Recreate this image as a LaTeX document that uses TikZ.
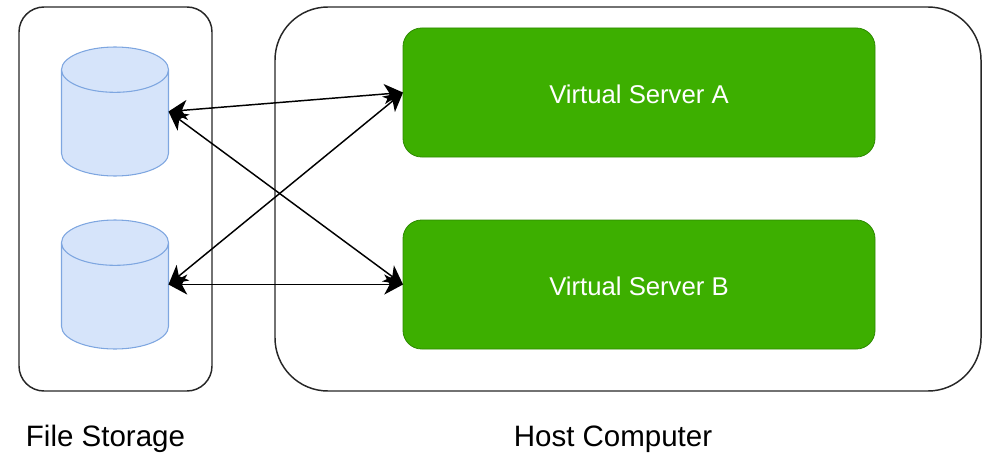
\documentclass[tikz,border=0pt]{standalone}
\usepackage{fontspec}
\setmainfont{Liberation Sans}
\usetikzlibrary{shapes.geometric}
\usetikzlibrary{positioning}
\usetikzlibrary{arrows.meta}
\definecolor{servergreen}{HTML}{3DAF00}
\definecolor{serverline}{HTML}{2D8A00}
\definecolor{diskfill}{HTML}{D6E4FA}
\definecolor{diskline}{HTML}{7EA6E0}
\newdimen\pxu
\pxu=0.75pt
\tikzset{
    panel/.style={draw=black!85, line width=1.1pt, rectangle, rounded corners=#1, outer sep=0pt},
    server/.style={draw=serverline, line width=0.6pt, fill=servergreen, rectangle, rounded corners=14pt, outer sep=0pt, text=white, text height=21.5\pxu, minimum width=472\pxu, minimum height=129\pxu, font=\fontsize{25.7\pxu}{30\pxu}\selectfont},
    disk/.style={draw=diskline, fill=diskfill, line width=0.8pt, cylinder, shape border rotate=90, aspect=5.1, outer sep=0pt, anchor=shape center, minimum width=107\pxu, minimum height=129\pxu},
    caption/.style={font=\fontsize{29.5\pxu}{34\pxu}\selectfont},
    link/.style={{Stealth[length=14pt,width=15pt,inset=4pt]}-{Stealth[length=14pt,width=15pt,inset=4pt]}, line width=1.1pt}
}
\begin{document}
\begin{tikzpicture}[x=0.75pt,y=-0.75pt]
    \useasboundingbox (0,0) rectangle (987,453);
    \node[panel=25\pxu, minimum width=193\pxu, minimum height=384\pxu] (storage) at (115.5,199) {};
    \node[panel=53\pxu, minimum width=706\pxu, minimum height=384\pxu] (host) at (628,199) {};

    \node[server] (serverA) at (639,92.5) {Virtual Server A};
    \node[server] (serverB) at (639,284.5) {Virtual Server B};
    \node[disk] (diskA) at (115,111.5) {};
    \node[disk] (diskB) at (115,284.5) {};
    \coordinate (portA) at (diskA.shape center -| diskA.east);
    \coordinate (portB) at (diskB.shape center -| diskB.east);

    \node[caption] (storagelabel) at (105.5,439) {File Storage};
    \node[caption] (hostlabel) at (613,439) {Host Computer};

    \draw[link] (portA) -- (serverA.west);
    \draw[link] (portA) -- (serverB.west);
    \draw[link] (portB) -- (serverA.west);
    \draw[link] (portB) -- (serverB.west);
\end{tikzpicture}
\end{document}
